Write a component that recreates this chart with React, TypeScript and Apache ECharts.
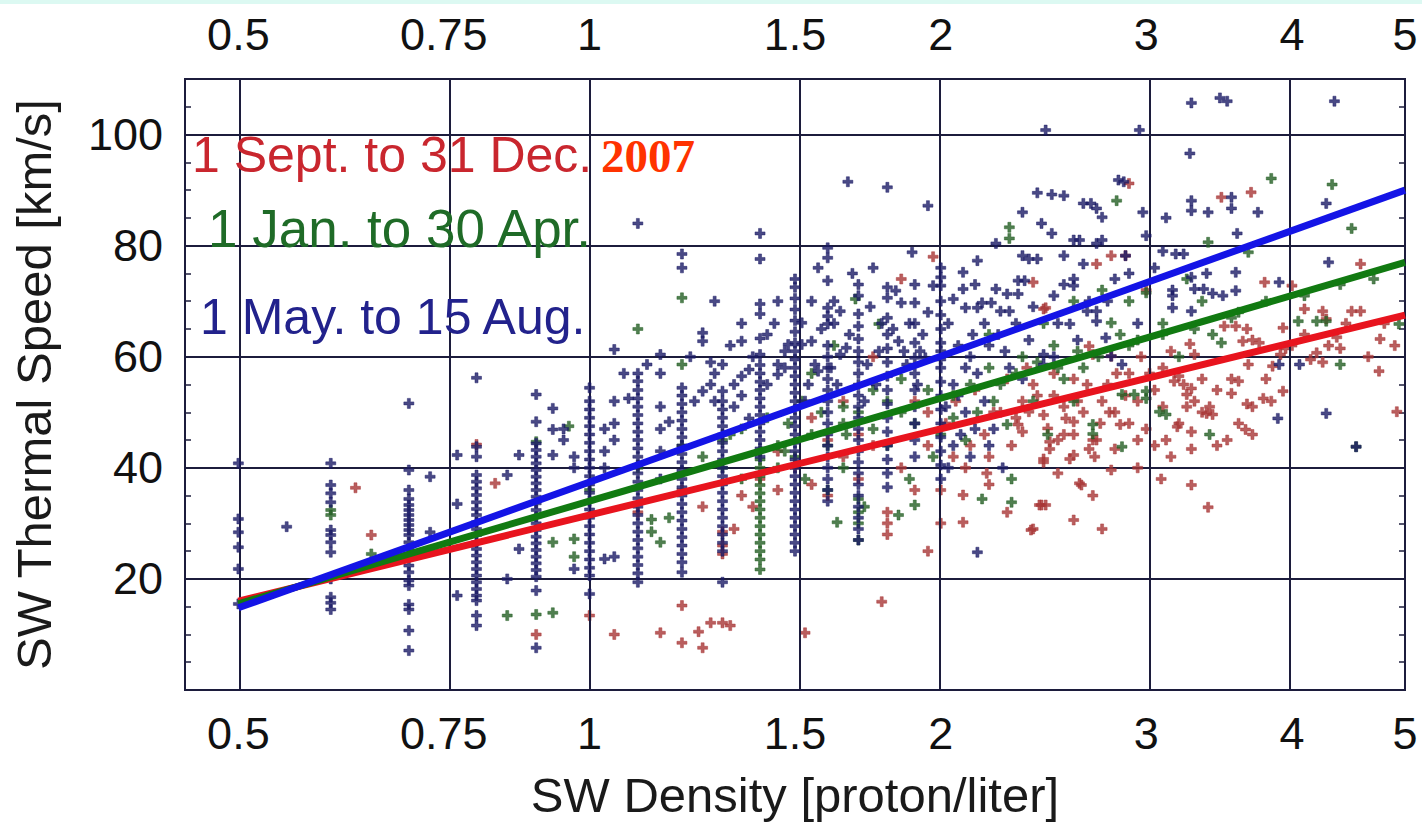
import React, { useEffect, useRef } from "react";
import * as echarts from "echarts";

// Axis ranges and tick values
const densityMin = 0.45;
const densityMax = 5;
const densityTicks = [0.5, 0.75, 1, 1.5, 2, 3, 4, 5];
const densityGridLines = [0.5, 0.75, 1, 1.5, 2, 3, 4];
const speedMin = 0;
const speedMax = 110;
const speedInterval = 20;
const speedLabelRange = [20, 100];

// Fit lines (density, thermal speed)
const redFit: [number, number][] = [[0.5, 16.0], [5, 67.5]];
const greenFit: [number, number][] = [[0.5, 15.5], [5, 77.0]];
const blueFit: [number, number][] = [[0.5, 14.8], [5, 90.0]];

// 1 May. to 15 Aug. — densities come in 0.1 steps at low values: [density, speeds]
const blueColumns: [number, number[]][] = [
  [0.5, [40.8, 30.8, 28.4, 25.7, 21.8, 15.5]],
  [0.6, [40.8, 36.9, 35.4, 33.8, 28.8, 27.9, 26.6, 24.8, 20.0, 16.7, 15.7, 14.5]],
  [0.7, [51.6, 39.6, 36.0, 34.4, 33.3, 32.4, 31.5, 30.6, 29.7, 28.8, 27.9, 26.6, 25.4, 24.2, 22.4, 21.2, 19.7, 18.8, 15.4, 14.5, 10.7, 7.1]],
  [0.8, [56.2, 43.8, 42.0, 38.7, 37.5, 36.3, 35.1, 33.8, 32.6, 31.5, 30.2, 29.0, 27.9, 26.6, 25.4, 24.2, 23.0, 21.8, 20.6, 19.4, 18.2, 17.0, 16.1, 13.4, 11.6]],
  [0.9, [53.2, 48.3, 44.4, 43.2, 42.0, 40.8, 39.6, 38.4, 37.2, 36.0, 34.8, 33.6, 32.4, 31.2, 30.0, 28.8, 27.6, 26.4, 25.2, 24.0, 22.8, 21.6, 20.4, 17.9, 7.6]],
  [1.0, [54.4, 52.0, 50.5, 49.0, 47.5, 46.0, 44.5, 43.0, 41.5, 40.0, 38.5, 37.0, 35.5, 34.0, 32.5, 31.0, 29.5, 28.0, 26.5, 25.0, 23.5, 22.0, 20.6, 17.3]],
  [1.1, [84.0, 57.0, 55.6, 54.0, 52.5, 51.0, 49.5, 48.0, 46.5, 45.0, 43.5, 42.0, 40.5, 39.0, 37.5, 36.0, 34.5, 33.0, 31.5, 30.0, 28.5, 27.0, 25.5, 24.0, 22.5, 21.0, 19.4]],
  [1.2, [78.5, 76.0, 54.4, 53.0, 51.5, 50.0, 48.5, 47.0, 45.5, 44.0, 42.5, 41.0, 39.5, 38.0, 36.5, 35.0, 33.5, 32.0, 30.5, 29.0, 27.5, 26.0, 24.5, 23.0, 21.2]],
  [1.3, [58.6, 53.8, 52.0, 50.5, 49.0, 47.5, 46.0, 44.5, 43.0, 41.5, 40.0, 38.5, 37.0, 35.5, 34.0, 32.5, 31.0, 29.5, 28.0, 26.5, 25.0, 19.4]],
  [1.4, [82.2, 77.6, 69.5, 67.7, 63.3, 60.4, 58.5, 57.0, 55.5, 54.0, 52.5, 51.0, 49.5, 48.0, 46.5, 45.0, 43.5, 42.0]],
  [1.5, [72.5, 70.5, 68.5, 66.5, 64.5, 62.5, 61.0, 59.5, 58.0, 56.5, 55.0, 53.5, 52.0, 50.5, 49.0, 47.5, 46.0, 44.5, 43.0, 41.5, 40.0, 38.5, 37.0, 35.5, 34.0, 32.5, 31.0, 29.5, 28.0, 26.5, 25.0]],
  [1.6, [79.6, 77.8, 73.7, 68.8, 67.3, 65.9, 62.0, 60.0, 58.0, 56.0, 54.0, 52.0, 50.0, 48.0, 46.0, 44.0, 42.0, 40.0, 38.0, 36.0, 34.0]],
  [1.7, [71.0, 67.7, 65.5, 63.2, 61.0, 59.0, 57.0, 55.0, 53.0, 51.0, 49.0, 47.0, 45.0, 43.0, 41.0, 39.0, 37.0, 35.0, 33.0, 31.0, 29.0, 27.0]],
  [1.8, [72.5, 70.6, 67.0, 64.0, 61.5, 59.0, 56.5, 54.0, 51.5, 49.0, 46.5, 44.0, 41.5, 39.0, 36.5]],
  [1.9, [69.7, 66.0, 62.5, 59.8, 57.0, 54.0, 51.0, 48.0, 45.0, 42.0]],
  [2.0, [76.0, 74.3, 72.8, 70.0, 67.5, 65.0, 62.5, 61.0, 59.5, 58.0, 55.5, 53.0, 50.5, 48.0, 45.5, 43.0, 40.5, 38.0]],
];

const blueScatter: [number, number][] = [
  [0.55, 29.4], [0.73, 38.4], [0.73, 28.4], [0.77, 42.3], [0.77, 33.5], [0.77, 17.0],
  [0.85, 38.7], [0.85, 20.0], [0.87, 42.3], [0.87, 25.4], [0.93, 50.7], [0.93, 46.9],
  [0.93, 42.3], [0.95, 47.0], [0.95, 45.0], [0.97, 42.0], [0.97, 40.0], [0.97, 21.8],
  [1.03, 47.0], [1.03, 43.0], [1.03, 40.0], [1.03, 23.6], [1.05, 61.3], [1.05, 52.0],
  [1.05, 48.0], [1.05, 45.0], [1.05, 24.0], [1.07, 57.0], [1.08, 52.5], [1.15, 60.4],
  [1.15, 57.0], [1.15, 51.0], [1.15, 47.0], [1.15, 43.0], [1.15, 38.0], [1.12, 58.6],
  [1.17, 48.3], [1.25, 64.3], [1.25, 62.8], [1.27, 59.0], [1.25, 53.8], [1.23, 52.0],
  [1.28, 52.0], [1.27, 55.0], [1.33, 55.0], [1.35, 56.5], [1.37, 57.7], [1.35, 62.8],
  [1.35, 53.0], [1.37, 48.9], [1.33, 51.0], [1.45, 58.6], [1.45, 56.8], [1.42, 55.0],
  [1.47, 58.0], [1.47, 61.0], [1.48, 62.2], [1.52, 62.2], [1.55, 62.8], [1.54, 55.0],
  [1.53, 52.0], [1.56, 58.6], [1.57, 57.4], [1.52, 66.1], [1.61, 58.0], [1.64, 60.4],
  [1.66, 61.6], [1.63, 55.0], [1.64, 68.2], [1.73, 58.6], [1.77, 61.0], [1.76, 55.0],
  [1.72, 52.0], [1.84, 62.8], [1.86, 61.0], [1.87, 58.6], [1.92, 61.0], [1.94, 59.8],
  [1.91, 55.0], [1.83, 71.9], [1.85, 69.7], [1.97, 72.8], [1.665, 91.5], [1.8, 90.5],
  [1.95, 87.2], [1.89, 78.8], [2.46, 100.8], [2.96, 100.8], [2.84, 91.8], [2.87, 91.5],
  [2.42, 89.5], [2.49, 89.2], [2.55, 89.0], [2.35, 86.0], [2.65, 87.6], [2.69, 87.6],
  [2.72, 86.7], [2.75, 85.1], [2.44, 84.0], [2.49, 82.2], [2.23, 80.4], [2.6, 81.0],
  [2.63, 81.0], [2.72, 80.4], [2.75, 81.0], [3.0, 81.8], [2.15, 77.3], [2.35, 78.2],
  [2.38, 77.6], [2.42, 77.6], [2.55, 78.2], [2.65, 76.7], [2.88, 78.2], [2.09, 75.2],
  [2.33, 73.7], [2.36, 73.7], [2.6, 74.0], [2.6, 72.8], [2.09, 72.2], [2.23, 72.2],
  [2.28, 71.3], [2.33, 71.3], [2.05, 70.4], [2.1, 68.8], [2.15, 68.8], [2.17, 69.7],
  [2.21, 69.7], [2.25, 68.2], [2.29, 68.2], [2.67, 68.2], [2.72, 68.2], [2.72, 66.4],
  [2.58, 65.9], [2.77, 63.4], [2.29, 58.0], [2.45, 58.6], [2.45, 60.4], [2.86, 58.6],
  [2.8, 60.1], [2.13, 64.0], [2.2, 62.0], [2.12, 60.0], [2.05, 55.0], [2.1, 50.0],
  [2.08, 46.0], [2.12, 42.0], [2.05, 44.0], [2.18, 52.0], [2.22, 47.0], [2.15, 57.0],
  [3.28, 105.7], [3.47, 106.6], [3.52, 106.0], [4.35, 106.0], [3.27, 96.6], [3.28, 88.1],
  [3.28, 86.3], [3.39, 86.0], [3.55, 88.7], [3.55, 86.7], [3.74, 86.0], [4.28, 87.6],
  [3.59, 82.2], [3.18, 78.5], [3.23, 78.5], [4.3, 77.0], [3.28, 74.3], [3.38, 75.0],
  [3.58, 75.2], [3.9, 73.4], [3.16, 72.0], [3.16, 71.0], [3.3, 72.2], [3.36, 72.2],
  [3.42, 71.4], [3.49, 71.0], [3.16, 68.8], [3.28, 68.2], [3.9, 58.6], [4.06, 58.6],
  [3.89, 48.9], [4.28, 49.8], [4.54, 43.8], [2.15, 24.8], [3.58, 71.9],
  [1.22, 60.0], [1.28, 57.0], [1.32, 62.0], [1.38, 60.0], [1.42, 64.0], [1.44, 66.0],
  [1.5, 74.0], [1.55, 70.0], [1.58, 65.0], [1.62, 66.0], [1.67, 64.0], [1.7, 73.0],
  [1.74, 69.0], [1.78, 66.0], [1.82, 65.0], [1.88, 66.0], [1.9, 73.0], [1.95, 68.0],
  [1.93, 64.0], [1.62, 70.0], [1.68, 75.0], [1.75, 76.0], [1.57, 76.0], [1.45, 70.0],
  [1.35, 66.0], [1.28, 70.0], [2.03, 66.0], [2.07, 62.0], [2.1, 58.0], [2.14, 73.0],
  [2.18, 66.0], [2.24, 64.0], [2.27, 61.0], [2.32, 66.0], [2.38, 63.0], [2.4, 69.0],
  [2.5, 71.0], [2.52, 66.0], [2.55, 73.0], [2.62, 63.0], [2.68, 70.0], [2.78, 70.0],
  [2.82, 74.0], [2.9, 75.0], [2.95, 66.0], [3.05, 76.0], [3.1, 79.0], [3.12, 85.0],
  [2.98, 86.0], [2.5, 60.0], [2.35, 56.0], [2.02, 51.0], [2.07, 53.0], [2.03, 40.0],
  [2.14, 47.0], [2.2, 44.0], [2.26, 40.0],
];

// 1 Jan. to 30 Apr.
const greenColumns: [number, number[]][] = [
  [0.6, [32.4, 31.5]],
  [1.4, [43.0, 41.5, 40.0, 38.5, 36.9, 35.4, 34.0, 32.5, 31.0, 29.5, 28.0, 26.5, 25.0, 23.5, 21.7]],
  [1.7, [34.4, 32.0, 30.0, 27.0]],
];

const greenScatter: [number, number][] = [
  [0.65, 24.5], [0.9, 44.7], [0.9, 13.6], [0.85, 13.4], [0.93, 13.9], [0.93, 26.6],
  [0.97, 24.0], [1.1, 65.0], [1.2, 70.6], [1.2, 58.6], [1.13, 30.7], [1.13, 28.5],
  [1.15, 26.6], [1.17, 31.0], [0.96, 47.5], [0.97, 27.2], [1.25, 42.0], [1.3, 45.0],
  [1.3, 40.0], [1.35, 38.0], [1.35, 47.0], [1.45, 44.0], [1.45, 40.0], [1.47, 43.0],
  [1.5, 42.0], [1.48, 48.0], [1.53, 38.0], [1.55, 46.0], [1.58, 50.0], [1.6, 44.0],
  [1.6, 36.0], [1.63, 30.2], [1.65, 48.0], [1.65, 40.0], [1.66, 46.0], [1.69, 70.4],
  [1.7, 50.0], [1.72, 33.0], [1.75, 47.0], [1.77, 65.9], [1.8, 52.0], [1.8, 44.0],
  [1.84, 31.5], [1.85, 50.0], [1.88, 38.0], [1.9, 48.0], [1.9, 33.3], [1.95, 54.0],
  [1.97, 42.0], [2.0, 46.0], [1.55, 57.0], [1.62, 62.0], [2.05, 49.0], [2.1, 45.0],
  [2.15, 50.0], [2.17, 34.4], [2.2, 58.0], [2.25, 55.0], [2.28, 47.8], [2.29, 83.3],
  [2.29, 81.3], [2.3, 38.0], [2.3, 33.8], [2.35, 60.0], [2.4, 52.0], [2.47, 46.0],
  [2.5, 62.0], [2.55, 56.0], [2.6, 52.0], [2.65, 58.0], [2.7, 47.8], [2.7, 46.1],
  [2.8, 66.1], [2.83, 88.1], [2.86, 43.8], [2.86, 53.2], [2.9, 62.0], [2.9, 70.0],
  [2.93, 53.2], [3.0, 53.8], [3.0, 52.5], [3.0, 71.5], [3.08, 50.1], [3.1, 64.0],
  [3.1, 66.0], [3.12, 49.6], [3.2, 60.0], [3.39, 80.6], [3.4, 46.0], [3.42, 64.0],
  [3.48, 62.5], [3.67, 78.8], [3.84, 92.1], [4.05, 66.4], [4.2, 66.4], [4.28, 66.4],
  [4.33, 91.0], [4.4, 58.6], [4.5, 83.1], [4.54, 43.8], [4.94, 65.9], [3.35, 70.0],
  [3.6, 68.0], [2.45, 66.0], [2.2, 64.0], [2.6, 70.0], [2.75, 72.0], [3.25, 74.0],
  [2.05, 53.0], [2.12, 55.0], [2.22, 52.0], [2.32, 57.0], [2.42, 59.0], [2.52, 58.0],
  [2.62, 61.0], [2.73, 60.0], [2.85, 64.0], [2.95, 63.0], [1.85, 56.0], [1.75, 54.0],
  [1.65, 51.0], [1.52, 52.0], [1.42, 49.0], [1.32, 46.0], [1.2, 44.0], [1.1, 40.0],
  [1.0, 36.0], [3.3, 65.0], [3.55, 67.0], [3.8, 70.0], [4.1, 71.0], [4.4, 73.0],
  [4.7, 74.0],
];

// 1 Sept. to 31 Dec.
const redScatter: [number, number][] = [
  [0.63, 36.4], [0.65, 27.9], [0.8, 44.2], [0.83, 37.2], [0.9, 10.0], [1.0, 13.4],
  [1.05, 10.0], [1.15, 10.3], [1.2, 15.2], [1.2, 8.5], [1.24, 10.5], [1.25, 7.6],
  [1.27, 12.1], [1.3, 12.1], [1.32, 11.6], [1.53, 10.3], [1.78, 15.9], [1.33, 29.0],
  [1.3, 28.5], [1.3, 26.0], [1.3, 24.5], [1.2, 36.0], [1.25, 33.0], [1.1, 32.0],
  [1.35, 35.0], [1.4, 38.0], [1.45, 43.0], [1.5, 40.0], [1.55, 37.0], [1.6, 35.0],
  [1.6, 45.0], [1.65, 42.0], [1.7, 38.0], [1.7, 46.0], [1.75, 44.0], [1.8, 32.0],
  [1.8, 30.0], [1.8, 28.0], [1.85, 40.0], [1.9, 36.0], [1.9, 52.0], [1.95, 44.0],
  [1.95, 50.0], [1.85, 74.0], [1.97, 78.0], [1.75, 60.0], [1.65, 52.0], [1.55, 49.0],
  [1.45, 36.0], [1.38, 33.0], [1.95, 25.0], [2.0, 30.0], [2.0, 36.0],
  [2.09, 35.1], [2.19, 39.0], [2.09, 30.2], [2.44, 33.3], [2.46, 33.3], [2.4, 29.0],
  [2.6, 30.6], [2.64, 36.9], [2.75, 29.0], [2.8, 39.6], [3.09, 38.0], [2.63, 37.2],
  [2.43, 33.3], [2.39, 28.8], [3.28, 36.9], [3.39, 32.9], [2.38, 50.1], [2.45, 49.5],
  [2.56, 48.9], [2.47, 47.1], [2.33, 47.8], [2.35, 46.5], [2.48, 44.7], [2.48, 43.4],
  [2.45, 41.6], [2.45, 41.0], [2.6, 48.3], [2.6, 46.0], [2.6, 42.3], [2.58, 41.6],
  [2.7, 45.0], [2.72, 45.0], [2.68, 43.4], [2.71, 42.0], [2.82, 43.4], [2.79, 50.0],
  [2.82, 50.0], [2.85, 47.8], [2.68, 61.9], [2.7, 60.4], [2.8, 60.1], [2.72, 76.7],
  [2.8, 78.2], [2.88, 78.2], [2.9, 91.2], [2.45, 68.6], [2.46, 68.8], [2.4, 73.4],
  [3.0, 72.0], [2.05, 42.0], [2.1, 40.0], [2.12, 44.0], [2.18, 46.0], [2.2, 42.0],
  [2.25, 50.0], [2.3, 44.0], [2.35, 52.0], [2.4, 55.0], [2.5, 53.0], [2.52, 45.0],
  [2.55, 51.0], [2.6, 56.0], [2.65, 50.0], [2.75, 52.0], [2.78, 55.0], [2.9, 57.0],
  [2.95, 52.0], [3.0, 47.0], [3.05, 44.0], [2.95, 45.0],
  [3.2, 56.5], [3.23, 55.0], [3.25, 53.2], [3.28, 54.3], [3.3, 52.0], [3.35, 50.0],
  [3.38, 49.8], [3.55, 56.0], [3.6, 55.6], [3.66, 51.5], [3.7, 51.0], [3.65, 46.9],
  [3.7, 46.0], [3.52, 45.0], [3.78, 52.5], [3.84, 52.0], [3.93, 53.8], [3.28, 43.4],
  [3.17, 55.6], [3.25, 51.0], [3.35, 56.0], [3.45, 54.0], [3.55, 53.4], [3.28, 46.5],
  [3.19, 47.4], [3.48, 88.7], [3.69, 89.6], [4.58, 76.7], [3.79, 73.4], [4.0, 72.8],
  [4.1, 68.6], [4.25, 68.2], [4.28, 66.8], [4.5, 68.2], [4.58, 68.2], [4.76, 63.2],
  [4.37, 63.5], [4.4, 61.5], [4.2, 60.7], [3.5, 65.5], [3.58, 65.5], [3.66, 65.0],
  [3.7, 63.0], [3.63, 62.8], [3.75, 62.5], [3.27, 62.3], [3.3, 60.4], [3.93, 65.2],
  [3.95, 61.5], [3.91, 60.4], [3.67, 58.6], [3.85, 58.3], [4.15, 59.5], [4.25, 59.0],
  [4.75, 57.4], [4.92, 50.1], [3.42, 49.6], [3.4, 51.0], [3.1, 58.0], [3.05, 54.0],
  [3.12, 45.0], [2.95, 40.0],
  [2.02, 48.0], [2.06, 52.0], [2.14, 54.0], [2.22, 50.0], [2.28, 56.0], [2.32, 49.0],
  [2.37, 58.0], [2.42, 53.0], [2.5, 57.0], [2.55, 46.0], [2.62, 52.0], [2.67, 55.0],
  [2.74, 48.0], [2.83, 57.0], [2.88, 53.0], [2.97, 60.0], [3.02, 57.0], [3.1, 51.0],
  [3.15, 61.0], [3.2, 48.0], [2.2, 37.0], [2.28, 32.0], [2.52, 39.0], [2.7, 35.0],
  [2.9, 48.0], [3.15, 42.0], [3.45, 44.0], [3.6, 48.0], [3.8, 56.0], [4.0, 62.0],
  [4.1, 64.0], [4.3, 62.0], [4.45, 66.0], [4.65, 60.0], [4.8, 66.0], [4.9, 62.0],
];

// Legend captions drawn inside the plot
const captions = [
  { text: "1 Sept. to 31 Dec.", color: "#c9262e", x: 192, y: 155, size: 50 },
  { text: "1 Jan. to 30 Apr.", color: "#1f6b27", x: 208, y: 228, size: 53 },
  { text: "1 May. to 15 Aug.", color: "#22228c", x: 200, y: 317, size: 50 },
];
const yearCaption = { text: "2007", color: "#ff3300", x: 601, y: 156, size: 47 };

const SANS = '"Liberation Sans", Arial, Helvetica, sans-serif';
const INK = "#1c1c3c";
const PLUS = "path://M3.5,0H6.5V3.5H10V6.5H6.5V10H3.5V6.5H0V3.5H3.5Z";

const lg = (n: number) => Math.log10(n);
const toLog = (pts: [number, number][]) => pts.map(([n, v]) => [lg(n), v]);
const fromColumns = (cols: [number, number[]][]) =>
  cols.flatMap(([n, vs]) => vs.map((v) => [lg(n), v]));

const densityLabel = (v: number) => String(Math.round(Math.pow(10, v) * 100) / 100);

export default function App() {
  const ref = useRef<HTMLDivElement>(null);

  useEffect(() => {
    if (!ref.current) return;
    const chart = echarts.init(ref.current, undefined, { renderer: "svg" });

    const xAxisBase = {
      type: "value" as const,
      min: lg(densityMin),
      max: lg(densityMax),
      axisLine: { show: false, onZero: false },
      axisTick: { show: false },
      splitLine: { show: false },
    };
    const xLabel = (margin: number) => ({
      customValues: densityTicks.map(lg),
      formatter: densityLabel,
      fontSize: 45,
      fontFamily: SANS,
      color: "#111",
      margin,
    });

    const yAxisBase = {
      type: "value" as const,
      min: speedMin,
      max: speedMax,
      interval: speedInterval,
      axisLine: { show: false, onZero: false },
      axisTick: { show: true, inside: true, length: 7, lineStyle: { color: INK, width: 1.5 } },
      minorTick: { show: true, splitNumber: 4, length: 6, lineStyle: { color: INK, width: 1.5 } },
    };

    const scatter = (name: string, data: number[][], color: string, z: number) => ({
      name,
      type: "scatter",
      data,
      symbol: PLUS,
      symbolSize: 10,
      itemStyle: { color, borderColor: color, borderWidth: 0.6 },
      silent: true,
      z,
    });
    const fit = (name: string, data: [number, number][], color: string, z: number) => ({
      name,
      type: "line",
      data: toLog(data),
      showSymbol: false,
      symbol: "none",
      lineStyle: { color, width: 7 },
      silent: true,
      z,
    });

    chart.setOption({
      animation: false,
      backgroundColor: "#ffffff",
      grid: {
        left: 185,
        right: 17,
        top: 79,
        bottom: 134,
        show: true,
        backgroundColor: "#ffffff",
        borderColor: INK,
        borderWidth: 2,
      },
      xAxis: [
        {
          ...xAxisBase,
          position: "bottom",
          axisLabel: xLabel(21),
          name: "SW Density [proton/liter]",
          nameLocation: "middle",
          nameGap: 80,
          nameTextStyle: { fontSize: 49, fontFamily: SANS, color: "#1a1a1a" },
        },
        { ...xAxisBase, position: "top", axisLabel: xLabel(22) },
      ],
      yAxis: [
        {
          ...yAxisBase,
          position: "left",
          splitLine: { show: true, lineStyle: { color: INK, width: 2 } },
          axisLabel: {
            formatter: (v: number) =>
              v >= speedLabelRange[0] && v <= speedLabelRange[1] ? String(v) : "",
            fontSize: 45,
            fontFamily: SANS,
            color: "#111",
            margin: 22,
          },
          name: "SW Thermal Speed [km/s]",
          nameLocation: "middle",
          nameRotate: 90,
          nameGap: 127,
          nameTextStyle: { fontSize: 49, fontFamily: SANS, color: "#1a1a1a" },
        },
        {
          ...yAxisBase,
          position: "right",
          splitLine: { show: false },
          axisLabel: { show: false },
        },
      ],
      series: [
        {
          name: "grid",
          type: "line",
          data: [],
          silent: true,
          z: 1,
          markLine: {
            silent: true,
            symbol: ["none", "none"],
            label: { show: false },
            lineStyle: { color: INK, width: 2, type: "solid" },
            emphasis: { disabled: true },
            data: densityGridLines.map((d) => ({ xAxis: lg(d) })),
          },
        },
        scatter("Sept-Dec", toLog(redScatter), "#a83636", 3),
        scatter("Jan-Apr", [...fromColumns(greenColumns), ...toLog(greenScatter)], "#245f24", 4),
        scatter("May-Aug", [...fromColumns(blueColumns), ...toLog(blueScatter)], "#1b1b66", 5),
        fit("Sept-Dec fit", redFit, "#e8141e", 6),
        fit("Jan-Apr fit", greenFit, "#117a11", 7),
        fit("May-Aug fit", blueFit, "#1414e6", 8),
      ],
      graphic: [
        {
          type: "rect",
          left: 0,
          top: 0,
          shape: { width: 1422, height: 4 },
          style: { fill: "#dcf9f2" },
          silent: true,
        },
        ...captions.map((c) => ({
          type: "text",
          x: c.x,
          y: c.y,
          z: 20,
          silent: true,
          style: {
            text: c.text,
            fill: c.color,
            fontSize: c.size,
            fontFamily: SANS,
            align: "left",
            verticalAlign: "middle",
          },
        })),
        {
          type: "text",
          x: yearCaption.x,
          y: yearCaption.y,
          z: 20,
          silent: true,
          style: {
            text: yearCaption.text,
            fill: yearCaption.color,
            fontSize: yearCaption.size,
            fontWeight: "bold",
            fontFamily: '"Liberation Serif", "Times New Roman", serif',
            align: "left",
            verticalAlign: "middle",
          },
        },
      ],
    });

    return () => chart.dispose();
  }, []);

  return (
    <div
      ref={ref}
      style={{ position: "fixed", left: 0, top: 0, width: 1422, height: 824 }}
    />
  );
}
